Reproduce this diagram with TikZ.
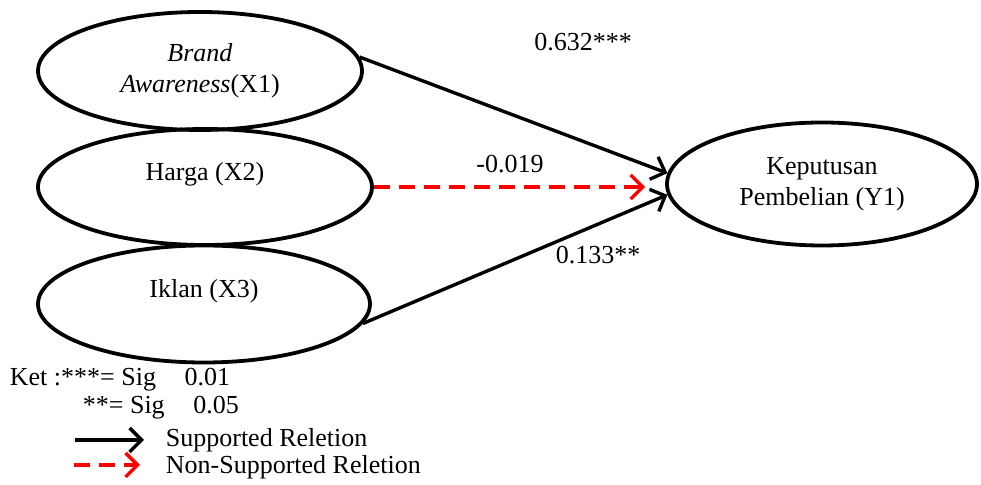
\documentclass[tikz,border=0pt]{standalone}
\usepackage{fontspec}
\setmainfont{Liberation Serif}
\usetikzlibrary{shapes.geometric,arrows.meta}
\begin{document}
\begin{tikzpicture}[x=0.5pt,y=-0.5pt,line width=1.9pt,
        font=\fontsize{13pt}{15.5pt}\selectfont,
        var/.style={draw, ellipse, inner sep=0pt, align=center},
        suppath/.style={line width=1.7pt, -{Straight Barb[length=6pt,width=12pt,line width=1.7pt]}},
        nspath/.style={suppath, red, dash pattern=on 8pt off 4.5pt},
        coef/.style={inner sep=0pt}]
            \useasboundingbox (0,0) rectangle (981,485);
            % latent variables
            \node[var, minimum width=162pt, minimum height=59pt] (x1) at (200,71)
                {\textit{Brand}\\\textit{Awareness}(X1)};
            \node[var, minimum width=167pt, minimum height=58pt] (x2) at (205,187)
                {Harga (X2)\\[0pt]~};
            \node[var, minimum width=166pt, minimum height=58.5pt] (x3) at (204,304)
                {Iklan (X3)\\[0pt]~};
            \node[var, minimum width=155pt, minimum height=61.5pt] (y1) at (822,184)
                {Keputusan\\Pembelian (Y1)};
            % paths
            \draw[suppath] (x1.5) -- (y1.176);
            \draw[nspath, shorten >=10pt] (x2.east) -- (x2.east -| y1.west);
            \draw[suppath] (x3.-7) -- (y1.184);
            \node[coef] (c1) at (583,42) {0.632***};
            \node[coef] (c2) at (510,164) {-0.019};
            \node[coef] (c3) at (598,255) {0.133**};
            % legend
            \node[coef, anchor=west] (k1) at (8,380) {Ket :***= Sig\hspace{1.1em}0.01};
            \node[coef, anchor=west] (k2) at (81,408) {**= Sig\hspace{1.1em}0.05};
            \node[coef, anchor=west] (sup) at (164,440) {Supported Reletion};
            \node[coef, anchor=west] (nsup) at (164,467) {Non-Supported Reletion};
            \coordinate (s0) at (75,440);
            \coordinate (n0) at (74,465);
            \draw[suppath, shorten >=10pt] (s0) -- (s0 -| sup.west);
            \draw[nspath, shorten >=12pt] (n0) -- (n0 -| nsup.west);
        \end{tikzpicture}
\end{document}
